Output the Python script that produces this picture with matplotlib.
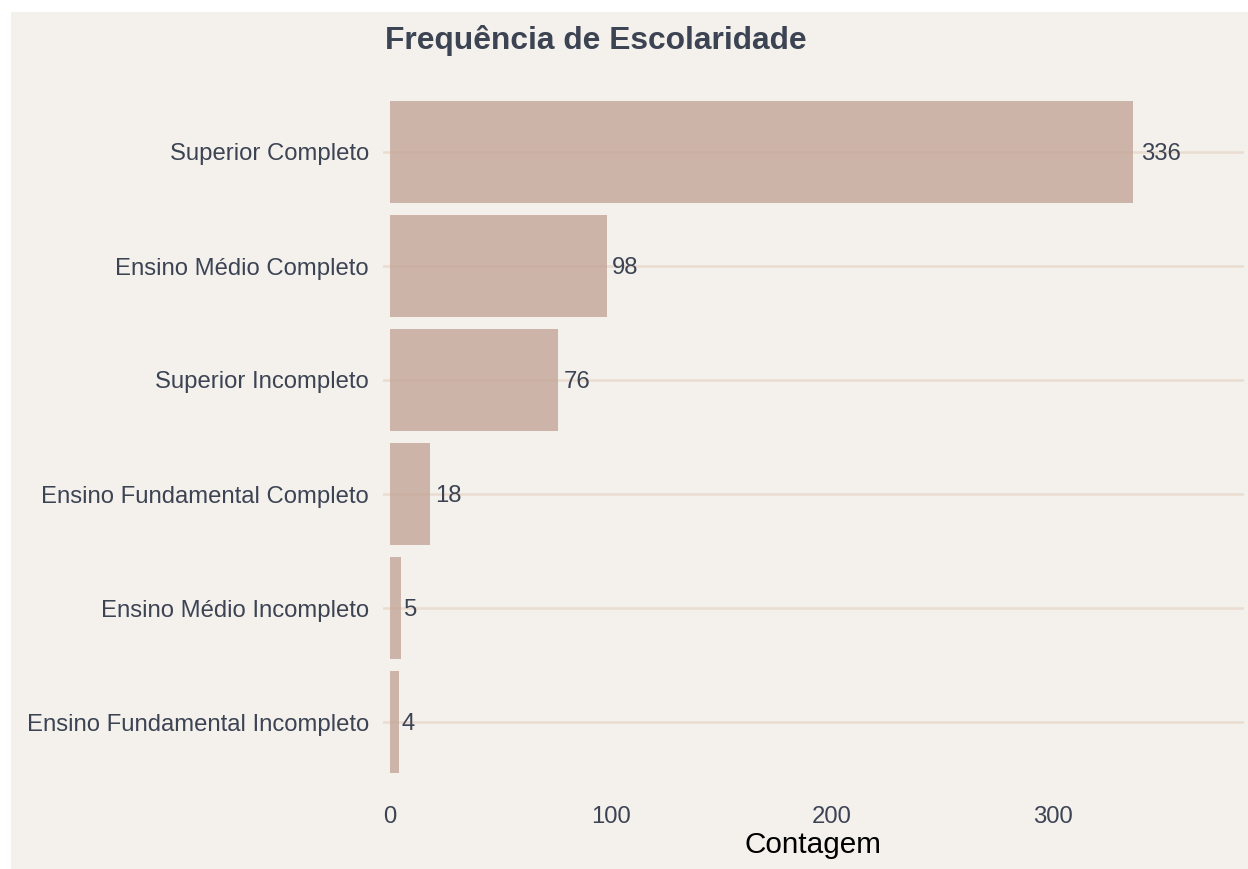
import matplotlib
matplotlib.use("Agg")
import matplotlib.pyplot as plt
import matplotlib.transforms as mtransforms
from matplotlib.patches import Rectangle

# data (top to bottom)
categorias = [
    "Superior Completo",
    "Ensino Médio Completo",
    "Superior Incompleto",
    "Ensino Fundamental Completo",
    "Ensino Médio Incompleto",
    "Ensino Fundamental Incompleto",
]
contagens = [336, 98, 76, 18, 5, 4]
x_ticks = [0, 100, 200, 300]

# colours
fundo = "#F4F1EC"
cor_barra = "#C3A697"
cor_texto = "#3C4353"
cor_grade = "#EADCD0"

plt.rcParams["font.family"] = ["Liberation Sans", "DejaVu Sans"]

W, H = 1248, 869
fig = plt.figure(figsize=(W / 100, H / 100), dpi=100, facecolor="white")

# panel background (leaves a thin white margin left and top)
fig.patches.append(Rectangle((11 / W, 0), 1 - 11 / W, 1 - 12 / H,
                             transform=fig.transFigure, facecolor=fundo,
                             edgecolor="none", zorder=-10))

ax = fig.add_axes([383 / W, 1 - 790.4 / H, (1244 - 383) / W, (790.4 - 83.6) / H])
ax.set_facecolor("none")

posicoes = list(range(len(categorias)))[::-1]
ax.barh(posicoes, contagens, height=0.9, color=cor_barra, alpha=0.8, zorder=2)

ax.set_xlim(-3.2, 386.4)
ax.set_ylim(-0.6, len(categorias) - 0.4)
ax.set_yticks(posicoes)
ax.set_yticklabels(categorias)
ax.set_xticks(x_ticks)
ax.tick_params(axis="both", length=0, labelsize=17.2, labelcolor=cor_texto)
ax.tick_params(axis="y", pad=10)
ax.tick_params(axis="x", pad=11)
ax.grid(axis="y", color=cor_grade, linewidth=1.8, zorder=0)
ax.grid(axis="x", visible=False)
ax.set_axisbelow(True)
for s in ax.spines.values():
    s.set_visible(False)

# value labels, shifted by 20% of their own width (like hjust=-0.2)
rotulos = []
for p, v in zip(posicoes, contagens):
    t = ax.text(v, p, str(v), ha="left", va="center_baseline", fontsize=17.2,
                color=cor_texto, zorder=3)
    rotulos.append(t)
fig.canvas.draw()
r = fig.canvas.get_renderer()
for t in rotulos:
    largura = t.get_window_extent(renderer=r).width
    t.set_transform(mtransforms.offset_copy(ax.transData, fig=fig,
                                            x=0.2 * largura, y=0, units="dots"))

fig.text(385 / W, 1 - 40 / H, "Frequência de Escolaridade", fontsize=22.9,
         fontweight="bold", color=cor_texto, ha="left", va="center")
fig.text(813 / W, 1 - 845 / H, "Contagem", fontsize=21.4, color="black",
         ha="center", va="center")

fig.savefig("out.png", dpi=100, facecolor="white")
